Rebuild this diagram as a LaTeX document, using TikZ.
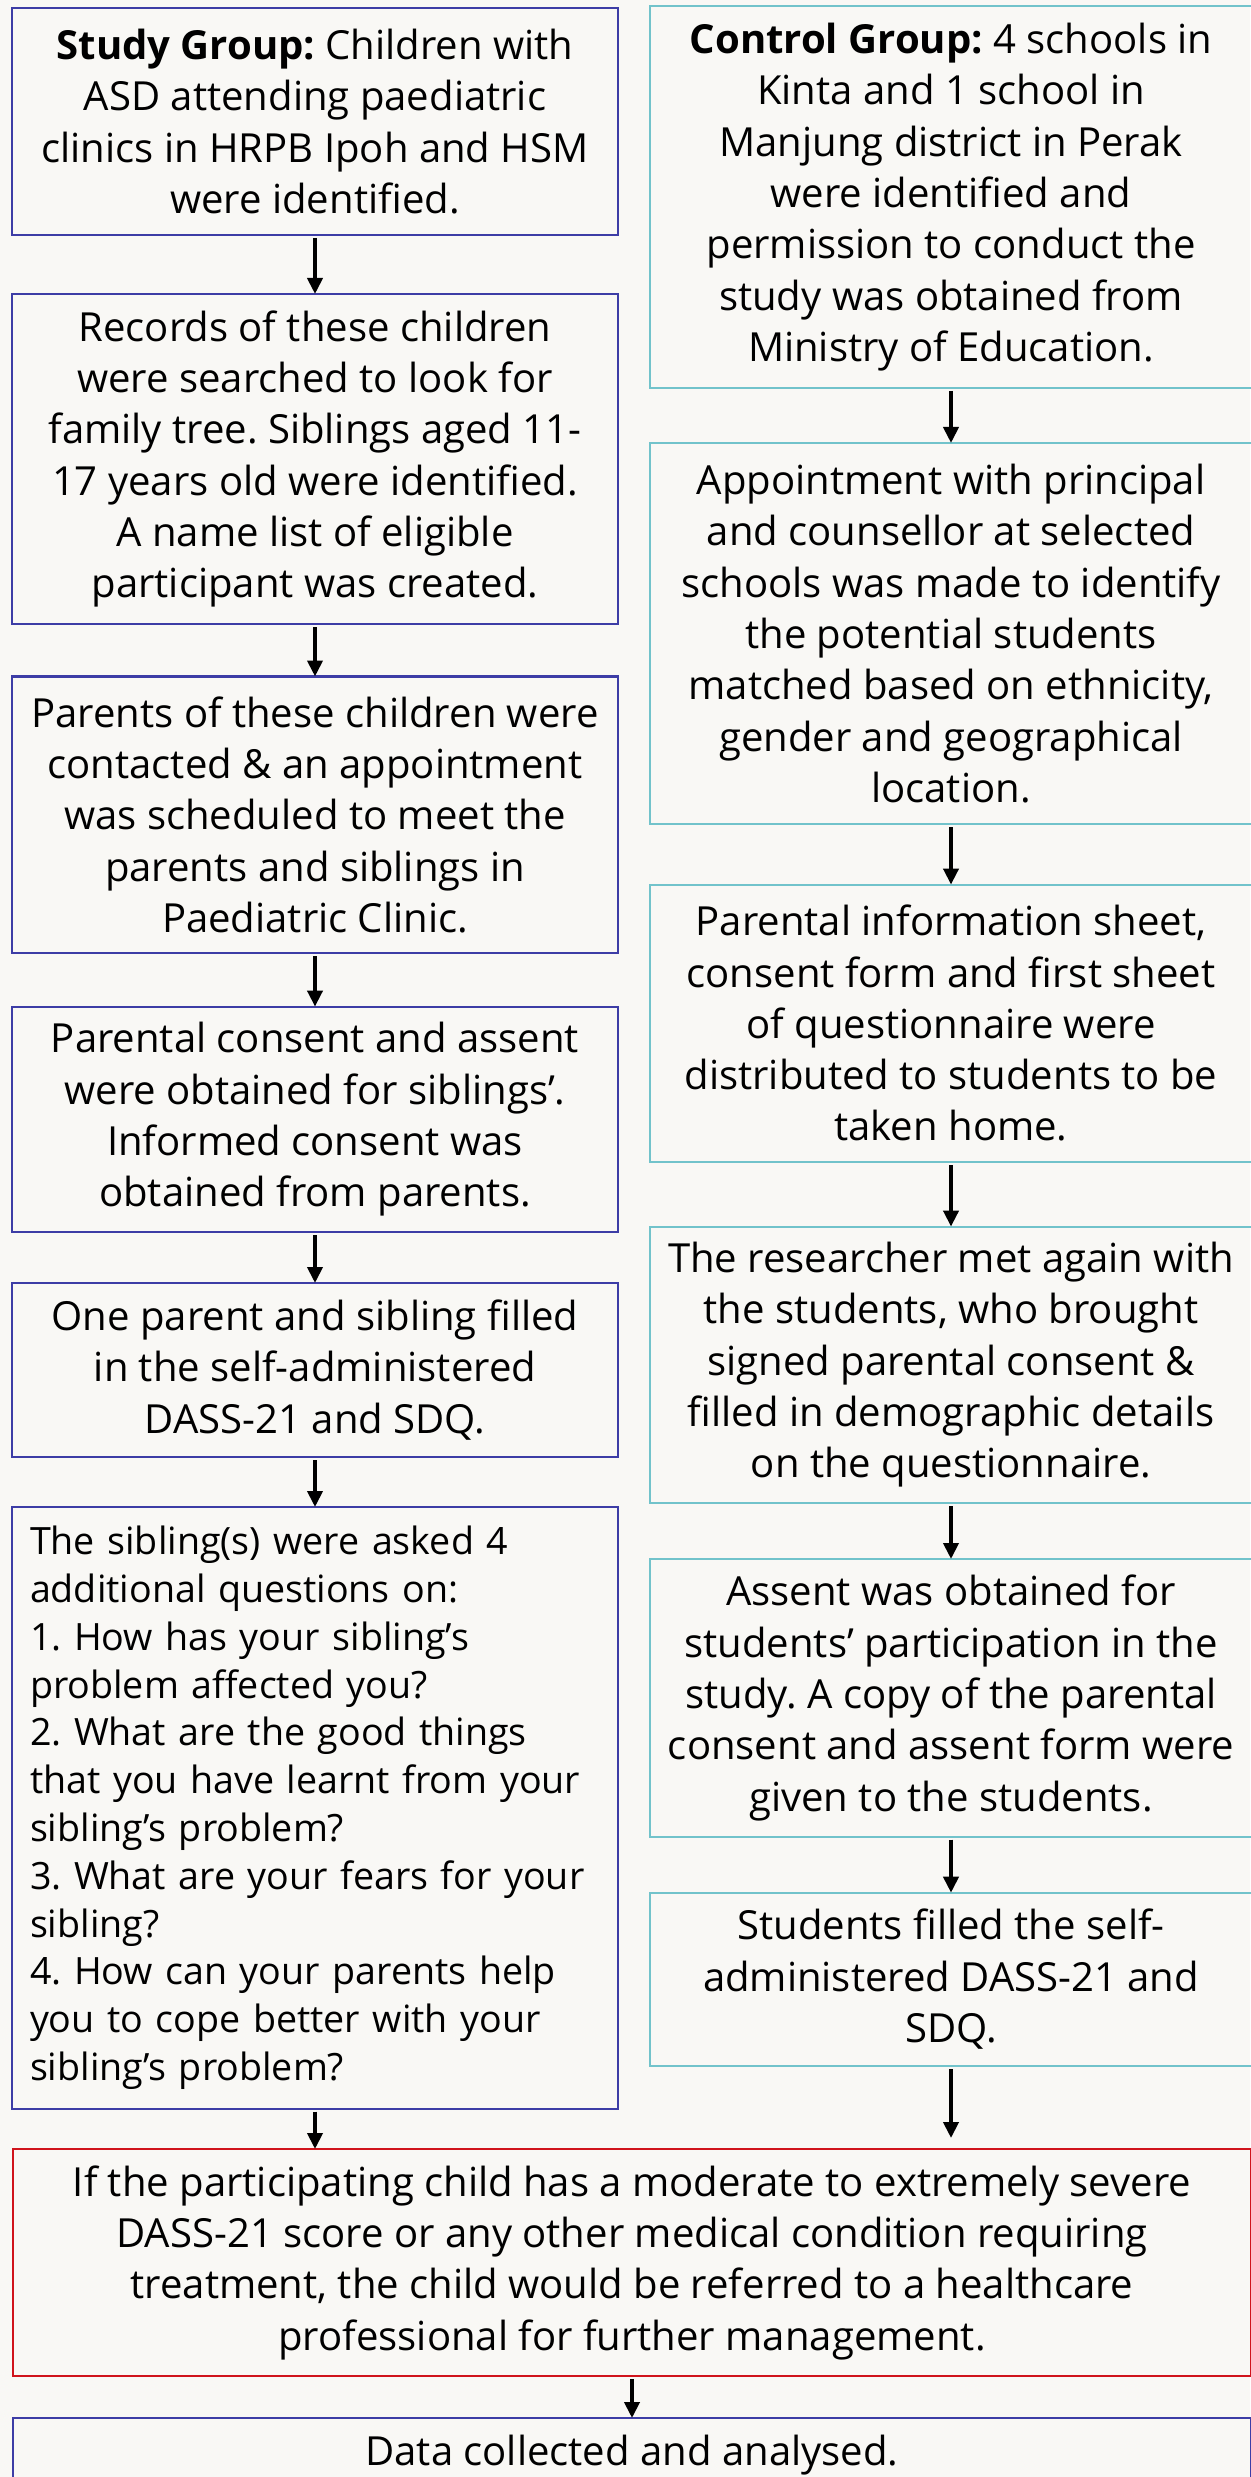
\documentclass[tikz,border=0pt]{standalone}
\usepackage{fontspec}
\setmainfont{Open Sans}
\frenchspacing
\usetikzlibrary{arrows.meta, positioning}
\definecolor{grpblue}{HTML}{3D3DA6}
\definecolor{ctlteal}{HTML}{72C3CB}
\definecolor{warnred}{HTML}{D0141C}
\definecolor{paper}{HTML}{F9F8F5}
\tikzset{
  node distance=0.55cm,
  box/.style={draw, rectangle, line width=0.6pt, inner sep=0pt, outer sep=0pt, align=center, font=\fontsize{11.4}{14.6}\selectfont},
  grp/.style={box, draw=grpblue, minimum width=6.06cm},
  ctl/.style={box, draw=ctlteal, minimum width=6.02cm},
  warn/.style={box, draw=warnred, minimum width=12.38cm},
  fin/.style={box, draw=grpblue, minimum width=12.38cm},
  pto/.style={-{Triangle[width=0.15cm,length=0.16cm]}, line width=1.1pt, shorten <=0.03cm}
}

\begin{document}
\begin{tikzpicture}
  \fill[paper] (0,0) rectangle (12.5,-24.77);
  \useasboundingbox (0,0) rectangle (12.5,-24.77);

  % study group
  \node[grp, minimum height=2.27cm, anchor=north west] (l1) at (0.12,-0.08) {\textbf{Study Group:} Children with\\ASD attending paediatric\\clinics in HRPB Ipoh and HSM\\were identified.};
  \node[grp, minimum height=3.30cm, below=0.59cm of l1] (l2) {Records of these children\\were searched to look for\\family tree. Siblings aged 11-\\17 years old were identified.\\A name list of eligible\\participant was created.};
  \node[grp, minimum height=2.765cm, below=0.525cm of l2] (l3) {Parents of these children were\\contacted \& an appointment\\was scheduled to meet the\\parents and siblings in\\Paediatric Clinic.};
  \node[grp, minimum height=2.254cm, below=0.536cm of l3] (l4) {Parental consent and assent\\were obtained for siblings’.\\Informed consent was\\obtained from parents.};
  \node[grp, minimum height=1.74cm, below=0.51cm of l4] (l5) {One parent and sibling filled\\in the self-administered\\DASS-21 and SDQ.};
  \node[grp, minimum height=6.016cm, below=0.50cm of l5, align=left, inner xsep=0.18cm, text width=5.7cm, font=\fontsize{10.7}{13.6}\selectfont] (l6) {The sibling(s) were asked 4\\additional questions on:\\1. How has your sibling’s\\problem affected you?\\2. What are the good things\\that you have learnt from your\\sibling’s problem?\\3. What are your fears for your\\sibling?\\4. How can your parents help\\you to cope better with your\\sibling’s problem?};

  % control group
  \node[ctl, minimum height=3.82cm, anchor=north west] (r1) at (6.50,-0.06) {\textbf{Control Group:} 4 schools in\\Kinta and 1 school in\\Manjung district in Perak\\were identified and\\permission to conduct the\\study was obtained from\\Ministry of Education.};
  \node[ctl, minimum height=3.81cm, below=0.55cm of r1] (r2) {Appointment with principal\\and counsellor at selected\\schools was made to identify\\the potential students\\matched based on ethnicity,\\gender and geographical\\location.};
  \node[ctl, minimum height=2.774cm, below=0.606cm of r2] (r3) {Parental information sheet,\\consent form and first sheet\\of questionnaire were\\distributed to students to be\\taken home.};
  \node[ctl, minimum height=2.764cm, below=0.646cm of r3] (r4) {The researcher met again with\\the students, who brought\\signed parental consent \&\\filled in demographic details\\on the questionnaire.};
  \node[ctl, minimum height=2.777cm, below=0.56cm of r4] (r5) {Assent was obtained for\\students’ participation in the\\study. A copy of the parental\\consent and assent form were\\given to the students.};
  \node[ctl, minimum height=1.733cm, below=0.56cm of r5] (r6) {Students filled the self-\\administered DASS-21 and\\SDQ.};

  % joint steps
  \node[warn, minimum height=2.27cm, anchor=north west] (refer) at (0.13,-21.49) {If the participating child has a moderate to extremely severe\\DASS-21 score or any other medical condition requiring\\treatment, the child would be referred to a healthcare\\professional for further management.};
  \node[fin, minimum height=0.75cm, below=0.42cm of refer] (data) {Data collected and analysed.};

  \foreach \a/\b in {l1/l2, l2/l3, l3/l4, l4/l5, l5/l6, r1/r2, r2/r3, r3/r4, r4/r5, r5/r6}
    \draw[pto] (\a.south) -- (\b.north);
  \draw[pto] (l6.south) -- (l6.south |- refer.north);
  \draw[pto] (r6.south) -- ([yshift=0.11cm]r6.south |- refer.north);
  \draw[pto] (refer.south) -- (data.north);
\end{tikzpicture}
\end{document}
